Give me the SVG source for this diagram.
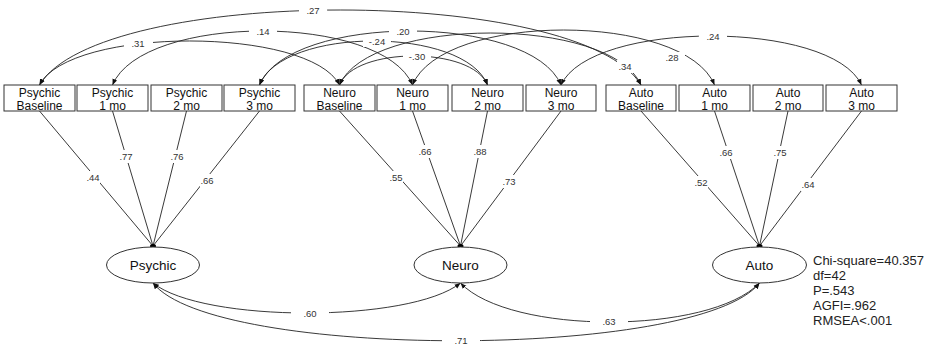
<svg xmlns="http://www.w3.org/2000/svg" width="935" height="348" viewBox="0 0 935 348">
<defs>
<marker id="ah" viewBox="0 0 10 10" refX="10" refY="5" markerWidth="6" markerHeight="6" markerUnits="userSpaceOnUse" orient="auto-start-reverse"><path d="M0,1 L10,5 L0,9 z" fill="#111"/></marker>
<style>
.box{fill:#fff;stroke:#333;stroke-width:1}
.lat{fill:#fff;stroke:#333;stroke-width:1}
.bt{font-family:"Liberation Sans",Arial,sans-serif;font-size:12px;fill:#111;text-anchor:middle}
.lt{font-family:"Liberation Sans",Arial,sans-serif;font-size:13.5px;fill:#111;text-anchor:middle}
.ft{font-family:"Liberation Sans",Arial,sans-serif;font-size:13px;fill:#222}
.cv{fill:none;stroke:#222;stroke-width:0.9;marker-start:url(#ah);marker-end:url(#ah)}
.ld{fill:none;stroke:#222;stroke-width:0.9}
.lb{font-family:"Liberation Sans",Arial,sans-serif;font-size:9.5px;fill:#333;text-anchor:middle}
.bg{fill:#fff}
</style>
</defs>
<rect width="935" height="348" fill="#fff"/>

<g id="connectors">
  <!-- covariances among observed variables -->
  <path class="cv" d="M39.5,85 C99.5,-15 581,-15 641,85"/>
  <path class="cv" d="M39.5,85 C69.5,26.3 309.5,26.3 339.5,85"/>
  <path class="cv" d="M112.5,85 C142.5,13 382.5,13 412.5,85"/>
  <path class="cv" d="M259.5,85 C289.5,13 531,13 561,85"/>
  <path class="cv" d="M259.5,85 C282.5,26.3 464.5,26.3 487.5,85"/>
  <path class="cv" d="M339.5,85 C354.5,46.3 472.5,46.3 487.5,85"/>
  <path class="cv" d="M339.5,85 C369.5,15.7 611,15.7 641,85"/>
  <path class="cv" d="M412.5,85 C442.5,11.7 684.5,11.7 714.5,85"/>
  <path class="cv" d="M561,85 C591,19.7 831.5,19.7 861.5,85"/>
  <!-- loadings -->
  <path class="ld" d="M39.5,111 L153,246 M112.5,111 L153,246 M186.5,111 L153,246 M259.5,111 L153,246"/>
  <path class="ld" d="M339.5,111 L460.5,246 M412.5,111 L460.5,246 M487.5,111 L460.5,246 M561,111 L460.5,246"/>
  <path class="ld" d="M641,111 L759.5,246 M714.5,111 L759.5,246 M788,111 L759.5,246 M861.5,111 L759.5,246"/>
  <ellipse cx="153" cy="246" rx="3" ry="2" fill="#000"/>
  <ellipse cx="460.5" cy="246" rx="3" ry="2" fill="#000"/>
  <ellipse cx="759.5" cy="246" rx="3" ry="2" fill="#000"/>
  <!-- latent covariances -->
  <path class="cv" d="M153,283 C203,323 410,323 460.5,283"/>
  <path class="cv" d="M460.5,283 C510,335 709,335 759.5,283"/>
  <path class="cv" d="M153,283 C213,360 699,360 759.5,283"/>

  <!-- labels -->
  <g>
    <rect class="bg" x="299" y="5" width="28" height="11"/><text class="lb" x="313" y="14">.27</text>
    <rect class="bg" x="124" y="38" width="29" height="11"/><text class="lb" x="138" y="47">.31</text>
    <rect class="bg" x="249" y="26" width="28" height="11"/><text class="lb" x="263" y="35">.14</text>
    <rect class="bg" x="389" y="26" width="28" height="11"/><text class="lb" x="403" y="35">.20</text>
    <rect class="bg" x="363" y="36" width="28" height="11"/><text class="lb" x="377" y="45">-.24</text>
    <rect class="bg" x="403" y="51" width="28" height="11"/><text class="lb" x="417" y="60">-.30</text>
    <rect class="bg" x="617" y="60" width="17" height="13"/><text class="lb" x="625" y="70">.34</text>
    <rect class="bg" x="659" y="52" width="26" height="11"/><text class="lb" x="672" y="61">.28</text>
    <rect class="bg" x="699" y="31" width="28" height="11"/><text class="lb" x="713" y="40">.24</text>

    <rect class="bg" x="86" y="171" width="14" height="13"/><text class="lb" x="93" y="181">.44</text>
    <rect class="bg" x="119" y="150" width="14" height="13"/><text class="lb" x="126" y="160">.77</text>
    <rect class="bg" x="170" y="150" width="14" height="13"/><text class="lb" x="177" y="160">.76</text>
    <rect class="bg" x="200" y="174" width="14" height="13"/><text class="lb" x="207" y="184">.66</text>

    <rect class="bg" x="389" y="171" width="14" height="13"/><text class="lb" x="396" y="181">.55</text>
    <rect class="bg" x="418" y="145" width="14" height="13"/><text class="lb" x="425" y="155">.66</text>
    <rect class="bg" x="473" y="145" width="14" height="13"/><text class="lb" x="480" y="155">.88</text>
    <rect class="bg" x="502" y="175" width="14" height="13"/><text class="lb" x="509" y="185">.73</text>

    <rect class="bg" x="694" y="176" width="14" height="13"/><text class="lb" x="701" y="186">.52</text>
    <rect class="bg" x="719" y="146" width="14" height="13"/><text class="lb" x="726" y="156">.66</text>
    <rect class="bg" x="773" y="146" width="14" height="13"/><text class="lb" x="780" y="156">.75</text>
    <rect class="bg" x="801" y="178" width="14" height="13"/><text class="lb" x="808" y="188">.64</text>

    <rect class="bg" x="291" y="308" width="38" height="11"/><text class="lb" x="310" y="317">.60</text>
    <rect class="bg" x="590" y="316" width="38" height="11"/><text class="lb" x="609" y="325">.63</text>
    <rect class="bg" x="442" y="335" width="38" height="11"/><text class="lb" x="461" y="344">.71</text>
  </g>
</g>

<g id="psy_base"><rect class="box" x="4" y="85" width="71" height="26"/><text class="bt" x="39.5" y="97">Psychic</text><text class="bt" x="39.5" y="109.5">Baseline</text></g>
<g id="psy_1"><rect class="box" x="77" y="85" width="71" height="26"/><text class="bt" x="112.5" y="97">Psychic</text><text class="bt" x="112.5" y="109.5">1 mo</text></g>
<g id="psy_2"><rect class="box" x="151" y="85" width="71" height="26"/><text class="bt" x="186.5" y="97">Psychic</text><text class="bt" x="186.5" y="109.5">2 mo</text></g>
<g id="psy_3"><rect class="box" x="224" y="85" width="71" height="26"/><text class="bt" x="259.5" y="97">Psychic</text><text class="bt" x="259.5" y="109.5">3 mo</text></g>

<g id="neu_base"><rect class="box" x="304" y="85" width="71" height="26"/><text class="bt" x="339.5" y="97">Neuro</text><text class="bt" x="339.5" y="109.5">Baseline</text></g>
<g id="neu_1"><rect class="box" x="377" y="85" width="71" height="26"/><text class="bt" x="412.5" y="97">Neuro</text><text class="bt" x="412.5" y="109.5">1 mo</text></g>
<g id="neu_2"><rect class="box" x="452" y="85" width="71" height="26"/><text class="bt" x="487.5" y="97">Neuro</text><text class="bt" x="487.5" y="109.5">2 mo</text></g>
<g id="neu_3"><rect class="box" x="526" y="85" width="70" height="26"/><text class="bt" x="561" y="97">Neuro</text><text class="bt" x="561" y="109.5">3 mo</text></g>

<g id="aut_base"><rect class="box" x="606" y="85" width="70" height="26"/><text class="bt" x="641" y="97">Auto</text><text class="bt" x="641" y="109.5">Baseline</text></g>
<g id="aut_1"><rect class="box" x="679" y="85" width="71" height="26"/><text class="bt" x="714.5" y="97">Auto</text><text class="bt" x="714.5" y="109.5">1 mo</text></g>
<g id="aut_2"><rect class="box" x="753" y="85" width="70" height="26"/><text class="bt" x="788" y="97">Auto</text><text class="bt" x="788" y="109.5">2 mo</text></g>
<g id="aut_3"><rect class="box" x="826" y="85" width="71" height="26"/><text class="bt" x="861.5" y="97">Auto</text><text class="bt" x="861.5" y="109.5">3 mo</text></g>

<g id="psychic"><ellipse class="lat" cx="153" cy="265" rx="46.5" ry="18"/><text class="lt" x="153" y="270">Psychic</text></g>
<g id="neuro"><ellipse class="lat" cx="460.5" cy="265" rx="46.5" ry="18"/><text class="lt" x="460.5" y="270">Neuro</text></g>
<g id="auto"><ellipse class="lat" cx="759.5" cy="265" rx="47" ry="18"/><text class="lt" x="759.5" y="270">Auto</text></g>

<g id="fit">
  <text class="ft" x="813" y="265">Chi-square=40.357</text>
  <text class="ft" x="813" y="280">df=42</text>
  <text class="ft" x="813" y="295">P=.543</text>
  <text class="ft" x="813" y="310">AGFI=.962</text>
  <text class="ft" x="813" y="325">RMSEA&lt;.001</text>
</g>
</svg>
